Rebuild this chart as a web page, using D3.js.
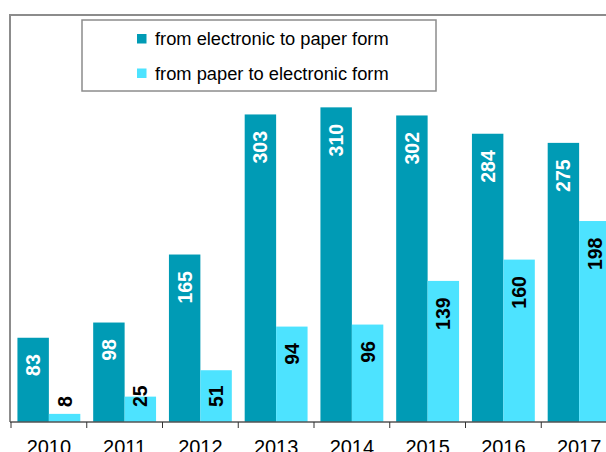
<!DOCTYPE html>
<html>
<head>
<meta charset="utf-8">
<script src="https://cdn.jsdelivr.net/npm/d3@7"></script>
<style>
  body { margin: 0; background: #fff; }
  svg { display: block; font-family: "Liberation Sans", Arial, sans-serif; }
</style>
</head>
<body>
<svg id="chart" width="606" height="452"></svg>
<script>
// chart data
var years = ["2010", "2011", "2012", "2013", "2014", "2015", "2016", "2017"];
var seriesNames = ["from electronic to paper form", "from paper to electronic form"];
var toPaper = [83, 98, 165, 303, 310, 302, 284, 275];
var toElectronic = [8, 25, 51, 94, 96, 139, 160, 198];

var colors = ["#009bb5", "#4de3ff"];
var labelColors = ["#ffffff", "#000000"];

var svg = d3.select("#chart");
var base = 422;

// x scale for the years, inner scale for the two series
var x = d3.scaleBand()
    .domain(years)
    .range([11, 617])
    .paddingInner(0.17)
    .paddingOuter(0.085);

var xs = d3.scaleBand()
    .domain([0, 1])
    .range([0, x.bandwidth()]);

var y = d3.scaleLinear()
    .domain([0, 400])
    .range([base, 16]);

// outer frame (top and left edges visible)
svg.append("path")
    .attr("d", "M10," + base + "V15H606")
    .attr("fill", "none")
    .attr("stroke", "#8c8c8c")
    .attr("stroke-width", 2);

var rows = years.map(function (yr, i) {
    return { year: yr, values: [toPaper[i], toElectronic[i]] };
});

var groups = svg.selectAll("g.year")
    .data(rows)
    .enter().append("g")
    .attr("class", "year")
    .attr("transform", function (d) { return "translate(" + x(d.year) + ",0)"; });

groups.selectAll("rect")
    .data(function (d) { return d.values; })
    .enter().append("rect")
    .attr("x", function (d, i) { return xs(i); })
    .attr("y", function (d) { return y(d); })
    .attr("width", xs.bandwidth())
    .attr("height", function (d) { return base - y(d); })
    .attr("fill", function (d, i) { return colors[i]; });

// value labels, rotated, near the bar top or lifted above a short bar
var fontSize = 19.5;
groups.selectAll("text.val")
    .data(function (d) { return d.values; })
    .enter().append("text")
    .attr("class", "val")
    .attr("font-size", fontSize)
    .attr("font-weight", "bold")
    .attr("fill", function (d, i) { return labelColors[i]; })
    .attr("text-anchor", "end")
    .attr("dy", "0.36em")
    .text(function (d) { return d; })
    .attr("transform", function (d, i) {
        var len = String(d).length * fontSize * 0.556;
        var ty = Math.min(y(d) + 16.5, base - 15 - len);
        var tx = xs(i) + xs.bandwidth() / 2;
        return "translate(" + tx + "," + ty + ") rotate(-90)";
    });

// x axis
var ax = svg.append("g")
    .attr("transform", "translate(0," + base + ")");
ax.append("line")
    .attr("x1", 10).attr("x2", 606)
    .attr("stroke", "#555").attr("stroke-width", 1.5);
ax.selectAll("line.tick")
    .data(d3.range(years.length + 1))
    .enter().append("line")
    .attr("class", "tick")
    .attr("x1", function (i) { return 11 + i * x.step(); })
    .attr("x2", function (i) { return 11 + i * x.step(); })
    .attr("y1", 0).attr("y2", 6)
    .attr("stroke", "#333").attr("stroke-width", 1);
ax.selectAll("text.yr")
    .data(years)
    .enter().append("text")
    .attr("class", "yr")
    .attr("x", function (d) { return x(d) + x.bandwidth() / 2; })
    .attr("y", 32)
    .attr("text-anchor", "middle")
    .attr("font-size", 20)
    .attr("fill", "#000")
    .text(function (d) { return d; });

// legend
var lg = svg.append("g");
lg.append("rect")
    .attr("x", 82).attr("y", 20)
    .attr("width", 354).attr("height", 71)
    .attr("fill", "#fff")
    .attr("stroke", "#8c8c8c").attr("stroke-width", 1.5);
var item = lg.selectAll("g.item")
    .data(seriesNames)
    .enter().append("g")
    .attr("class", "item")
    .attr("transform", function (d, i) { return "translate(137," + (34 + i * 34.5) + ")"; });
item.append("rect")
    .attr("width", 9.5).attr("height", 9.5)
    .attr("fill", function (d, i) { return colors[i]; });
item.append("text")
    .attr("x", 18).attr("y", 5)
    .attr("dy", "0.35em")
    .attr("font-size", 18.3)
    .attr("fill", "#000")
    .text(function (d) { return d; });
</script>
</body>
</html>
